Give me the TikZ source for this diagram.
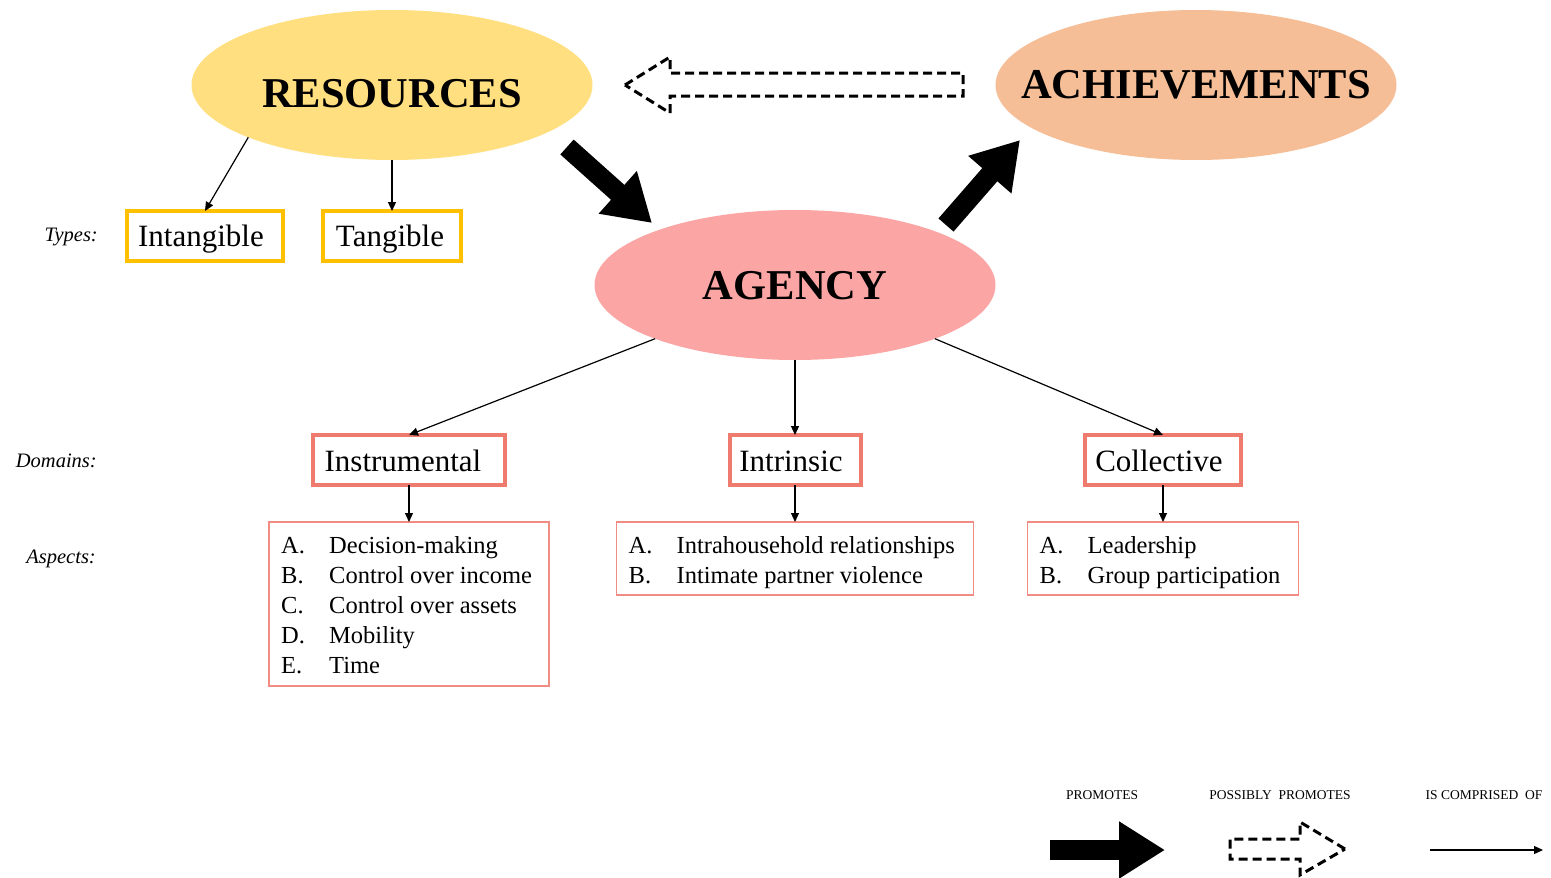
\documentclass[tikz,border=0pt]{standalone}
\usepackage{fontspec}
\setmainfont{Liberation Serif}
\usetikzlibrary{shapes.geometric,arrows.meta}
\definecolor{resY}{HTML}{FFDF80}
\definecolor{achO}{HTML}{F5BE97}
\definecolor{agP}{HTML}{FBA6A5}
\definecolor{typeB}{HTML}{FFC000}
\definecolor{domB}{HTML}{EF7B6F}
\definecolor{aspB}{HTML}{F08C84}
\tikzset{
  big/.style={ellipse,minimum width=401pt,minimum height=150pt,inner sep=0pt,outer sep=0pt},
  bigtext/.style={font=\fontsize{42.5}{46}\selectfont\bfseries,inner sep=0pt},
  typebox/.style={draw=typeB,line width=4pt,minimum height=50pt,inner sep=0pt,outer sep=0pt},
  dombox/.style={draw=domB,line width=4pt,minimum height=50pt,inner sep=0pt,outer sep=0pt},
  boxtext/.style={inner sep=0pt,font=\fontsize{31}{34}\selectfont},
  aspbox/.style={draw=aspB,line width=1.2pt,inner sep=0pt,outer sep=0pt},
  asptext/.style={anchor=west,inner sep=0pt,align=left,font=\fontsize{24.5}{30}\selectfont},
  sidelabel/.style={anchor=east,inner sep=0pt,font=\fontsize{20.5}{24}\selectfont\itshape},
  legtext/.style={inner sep=0pt,font=\fontsize{13.5}{16}\selectfont},
  thinarrow/.style={line width=1.2pt,-{Triangle[length=9pt,width=8pt]}},
  fatarrow/.style={line width=20pt,-{Triangle[length=46pt,width=54pt]}},
  dasharrow/.style={line width=3pt,dash pattern=on 9pt off 5pt,line join=miter}
}
\newcommand{\itm}[2]{\makebox[48pt][l]{#1}#2}
\begin{document}
\begin{tikzpicture}[x=1pt,y=-1pt]
\useasboundingbox (0,0) rectangle (1551,878);

% ellipses
\node[big,fill=resY] (res) at (392,85) {};
\node[bigtext] (restext) at ([yshift=-9pt]res.center) {RESOURCES};
\node[big,fill=achO] (ach) at (1196,85) {};
\node[bigtext] (achtext) at (ach.center) {ACHIEVEMENTS};
\node[big,fill=agP] (ag) at (795,285) {};
\node[bigtext] (agtext) at ([yshift=-1pt]ag.center) {AGENCY};

% types
\node[sidelabel] (typeslbl) at (98,237) {Types:};
\node[typebox,minimum width=156pt] (intg) at (205,236) {};
\node[boxtext] (intgt) at ([xshift=-4pt,yshift=-3pt]intg.center) {Intangible};
\node[typebox,minimum width=138pt] (tang) at (392,236) {};
\node[boxtext] (tangt) at ([xshift=-2pt,yshift=-3pt]tang.center) {Tangible};

% domains
\node[sidelabel] (domlbl) at (97,461) {Domains:};
\node[dombox,minimum width=192pt] (instr) at (409,460) {};
\node[boxtext] (instrt) at ([xshift=-6pt,yshift=-1pt]instr.center) {Instrumental};
\node[dombox,minimum width=131pt] (intr) at (795,460) {};
\node[boxtext] (intrt) at ([xshift=-4pt,yshift=-1pt]intr.center) {Intrinsic};
\node[dombox,minimum width=156pt] (coll) at (1163,460) {};
\node[boxtext] (collt) at ([xshift=-4pt,yshift=-1pt]coll.center) {Collective};

% aspects
\node[sidelabel] (asplbl) at (96,559) {Aspects:};
\node[aspbox,minimum width=280pt,minimum height=164pt] (asp1) at (409,604) {};
\node[asptext] (asp1t) at ([xshift=12pt,yshift=-1pt]asp1.west) {%
\itm{A.}{Decision-making}\\
\itm{B.}{Control over income}\\
\itm{C.}{Control over assets}\\
\itm{D.}{Mobility}\\
\itm{E.}{Time}};
\node[aspbox,minimum width=357pt,minimum height=73pt] (asp2) at (795,558.5) {};
\node[asptext] (asp2t) at ([xshift=12pt,yshift=-4pt]asp2.west) {%
\itm{A.}{Intrahousehold relationships}\\
\itm{B.}{Intimate\ partner violence}};
\node[aspbox,minimum width=271pt,minimum height=73pt] (asp3) at (1163,558.5) {};
\node[asptext] (asp3t) at ([xshift=12pt,yshift=-4pt]asp3.west) {%
\itm{A.}{Leadership}\\
\itm{B.}{Group participation}};

% thin "is comprised of" arrows
\draw[thinarrow] (res.200.5) -- (intg.north);
\draw[thinarrow] (res.south) -- (tang.north);
\draw[thinarrow] (ag.201) -- (instr.north);
\draw[thinarrow] (ag.south) -- (intr.north);
\draw[thinarrow] (ag.339) -- (coll.north);
\draw[thinarrow] (instr.south) -- (asp1.north);
\draw[thinarrow] (intr.south) -- (asp2.north);
\draw[thinarrow] (coll.south) -- (asp3.north);

% fat "promotes" arrows
\coordinate (ratail) at (567,147);
\coordinate (ratip) at (652,223);
\draw[fatarrow] (ratail) -- (ratip);
\coordinate (aatail) at (946,225);
\coordinate (aatip) at (1020,140);
\draw[fatarrow] (aatail) -- (aatip);

% dashed "possibly promotes" arrow
\coordinate (dtip) at (625,85);
\draw[dasharrow] (dtip) -- ++(45,-28) -- ++(0,16) -- ++(293,0) -- ++(0,23) -- ++(-293,0) -- ++(0,17) -- cycle;

% legend
\node[legtext] (lg1) at (1102,795) {PROMOTES};
\node[legtext] (lg2) at (1280,795) {POSSIBLY\ \ PROMOTES};
\node[legtext] (lg3) at (1484,795) {IS COMPRISED\ \ OF};
\coordinate (l1a) at (1050,850);
\coordinate (l1b) at (1165,850);
\draw[fatarrow] (l1a) -- (l1b);
\coordinate (l2tip) at (1345,849);
\draw[dasharrow] (l2tip) -- ++(-45,-27) -- ++(0,17) -- ++(-70,0) -- ++(0,20) -- ++(70,0) -- ++(0,16) -- cycle;
\coordinate (l3a) at (1430,850);
\coordinate (l3b) at (1543,850);
\draw[thinarrow] (l3a) -- (l3b);
\end{tikzpicture}
\end{document}
